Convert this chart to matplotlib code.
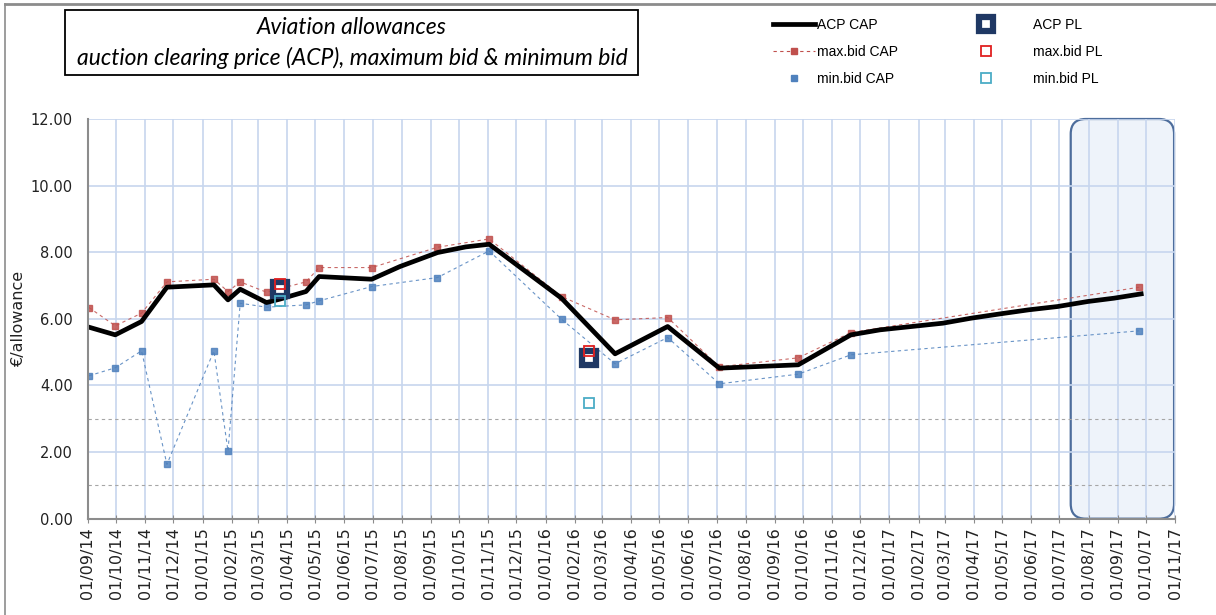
import numpy as np
import pandas as pd
import matplotlib
matplotlib.use('Agg')
import matplotlib.pyplot as plt
import matplotlib.dates as mdates
from matplotlib.patches import FancyBboxPatch, Rectangle
from matplotlib.lines import Line2D

###################### data ######################
acp_dates = ['2014-09-02', '2014-09-30', '2014-10-28', '2014-11-24', '2015-01-13',
             '2015-01-28', '2015-02-10', '2015-03-10', '2015-03-24', '2015-04-21',
             '2015-05-05', '2015-06-30', '2015-07-30', '2015-09-08', '2015-10-08',
             '2015-11-02', '2016-01-18', '2016-03-15', '2016-05-10', '2016-07-04',
             '2016-09-26', '2016-11-21', '2016-12-22', '2017-02-27', '2017-03-29',
             '2017-04-29', '2017-05-29', '2017-06-29', '2017-07-31', '2017-08-28',
             '2017-09-26']
acp_cap = [5.75, 5.52, 5.92, 6.95, 7.02, 6.57, 6.89, 6.49, 6.59, 6.82,
           7.27, 7.19, 7.57, 7.99, 8.16, 8.24, 6.62, 4.95, 5.77, 4.52,
           4.62, 5.52, 5.67, 5.87, 6.02, 6.15, 6.27, 6.37, 6.52, 6.62,
           6.75]

bid_dates = ['2014-09-02', '2014-09-30', '2014-10-28', '2014-11-24', '2015-01-13',
             '2015-01-28', '2015-02-10', '2015-03-10', '2015-04-21', '2015-05-05',
             '2015-06-30', '2015-09-08', '2015-11-02', '2016-01-18', '2016-03-15',
             '2016-05-10', '2016-07-04', '2016-09-26', '2016-11-21', '2017-09-24']
max_bid_cap = [6.34, 5.79, 6.17, 7.11, 7.19, 6.82, 7.11, 6.80, 7.11, 7.54,
               7.54, 8.15, 8.40, 6.67, 5.97, 6.04, 4.56, 4.83, 5.59, 6.95]
min_bid_cap = [4.29, 4.53, 5.04, 1.63, 5.04, 2.03, 6.47, 6.35, 6.42, 6.54,
               6.97, 7.24, 8.04, 5.99, 4.65, 5.44, 4.05, 4.34, 4.92, 5.64]

pl_dates = ['2015-03-24', '2016-02-16']
acp_pl = [6.91, 4.82]
max_bid_pl = [7.04, 5.03]
min_bid_pl = [6.54, 3.48]

box_start = '2017-07-13'
x_start, x_end = '2014-09-01', '2017-11-01'

title_lines = ['Aviation allowances',
               'auction clearing price (ACP), maximum bid & minimum bid']

acp_dates = pd.to_datetime(acp_dates)
bid_dates = pd.to_datetime(bid_dates)
pl_dates = pd.to_datetime(pl_dates)

###################### figure ######################
fig = plt.figure(figsize=(12.16, 6.15), dpi=100)
ax = fig.add_axes([88/1216, 1-518.7/615, (1175-88)/1216, (518.7-119)/615])

grid_c = '#c7d6ee'
red = '#c0504d'
blue = '#4f81bd'
navy = '#1f3864'

# shaded rounded box at the right end
x0 = mdates.date2num(pd.Timestamp(box_start))
x1 = mdates.date2num(pd.Timestamp(x_end))
box = FancyBboxPatch((x0, 0), x1 - x0 - 1, 12,
                     boxstyle='round,pad=0,rounding_size=16',
                     mutation_aspect=0.028,
                     facecolor='#eef3fa', edgecolor='#4d6d9c', lw=1.6,
                     zorder=0.5, clip_on=False)
ax.add_patch(box)

# dashed gray guide lines
for yv in (1, 3):
    ax.axhline(yv, color='#a6a6a6', ls=(0, (3, 3)), lw=0.8, zorder=1)

ax.plot(bid_dates, max_bid_cap, color=red, ls=(0, (3, 3)), lw=0.8,
        marker='s', ms=5, mfc=red, mec=red, zorder=3, alpha=0.85)
ax.plot(bid_dates, min_bid_cap, color=blue, ls=(0, (3, 3)), lw=0.8,
        marker='s', ms=5, mfc=blue, mec=blue, zorder=3, alpha=0.85)
ax.plot(acp_dates, acp_cap, color='black', lw=3.4, zorder=4,
        solid_joinstyle='round')

ax.plot(pl_dates, acp_pl, ls='none', marker='s', ms=10, mfc='white',
        mec=navy, mew=4.5, zorder=5)
ax.plot(pl_dates, max_bid_pl, ls='none', marker='s', ms=7, mfc='none',
        mec='#e02020', mew=1.3, zorder=6)
ax.plot(pl_dates, min_bid_pl, ls='none', marker='s', ms=7, mfc='none',
        mec='#4bacc6', mew=1.3, zorder=6)

# axes
ax.set_xlim(pd.Timestamp(x_start), pd.Timestamp(x_end))
ax.set_ylim(0, 12)
ax.xaxis.set_major_locator(mdates.MonthLocator())
ax.xaxis.set_major_formatter(mdates.DateFormatter('%d/%m/%y'))
ax.set_yticks(np.arange(0, 13, 2))
ax.yaxis.set_major_formatter(matplotlib.ticker.FormatStrFormatter('%.2f'))
ax.grid(True, color=grid_c, lw=1.2, zorder=0)
ax.set_axisbelow(True)
for s in ('top', 'right'):
    ax.spines[s].set_visible(False)
for s in ('left', 'bottom'):
    ax.spines[s].set_color('#8c8c8c')
    ax.spines[s].set_linewidth(1.5)
    ax.spines[s].set_zorder(7)
ax.tick_params(axis='x', direction='inout', length=6, color='#8c8c8c',
               labelsize=11.5, labelcolor='#222222', rotation=90, pad=3)
ax.tick_params(axis='y', length=0, labelsize=10.5, labelcolor='#222222', pad=11)
ax.set_ylabel('€/allowance', fontsize=11.5, color='#222222', labelpad=3)

# title box
fig.add_artist(Rectangle((65/1216, 1-75/615), (638-65)/1216, 65/615,
                         transform=fig.transFigure, fill=False,
                         edgecolor='black', lw=1.3))
fig.text(352/1216, 1-28/615, title_lines[0], ha='center', va='center',
         fontsize=16.5, style='italic', family='Lato')
fig.text(352/1216, 1-58/615, title_lines[1], ha='center', va='center',
         fontsize=16.5, style='italic', family='Lato')

# outer frame
fig.add_artist(Line2D([5/1216, 1], [1-4/615, 1-4/615], color='#8c8c8c',
                      lw=2, transform=fig.transFigure))
fig.add_artist(Line2D([5/1216, 5/1216], [0, 1-4/615], color='#8c8c8c',
                      lw=1.2, transform=fig.transFigure))

# legends
h1 = [Line2D([], [], color='black', lw=3.4),
      Line2D([], [], color=red, ls=(0, (3, 3)), lw=0.8, marker='s', ms=5),
      Line2D([], [], ls='none', color=blue, marker='s', ms=5)]
l1 = ['ACP CAP', 'max.bid CAP', 'min.bid CAP']
h2 = [Line2D([], [], ls='none', marker='s', ms=10, mfc='white', mec=navy, mew=4.5),
      Line2D([], [], ls='none', marker='s', ms=7, mfc='none', mec='#e02020', mew=1.3),
      Line2D([], [], ls='none', marker='s', ms=7, mfc='none', mec='#4bacc6', mew=1.3)]
l2 = ['ACP PL', 'max.bid PL', 'min.bid PL']
leg_font = {'family': 'Liberation Sans', 'size': 10}
fig.legend(h1, l1, loc='upper left', bbox_to_anchor=(766/1216, 1-11/615),
           frameon=False, prop=leg_font, handlelength=3.0, handletextpad=0.2,
           labelspacing=0.95, borderpad=0)
fig.legend(h2, l2, loc='upper left', bbox_to_anchor=(958/1216, 1-11/615),
           frameon=False, prop=leg_font, handlelength=3.0, handletextpad=1.9,
           labelspacing=0.95, borderpad=0)

fig.savefig('out.png', dpi=100)
